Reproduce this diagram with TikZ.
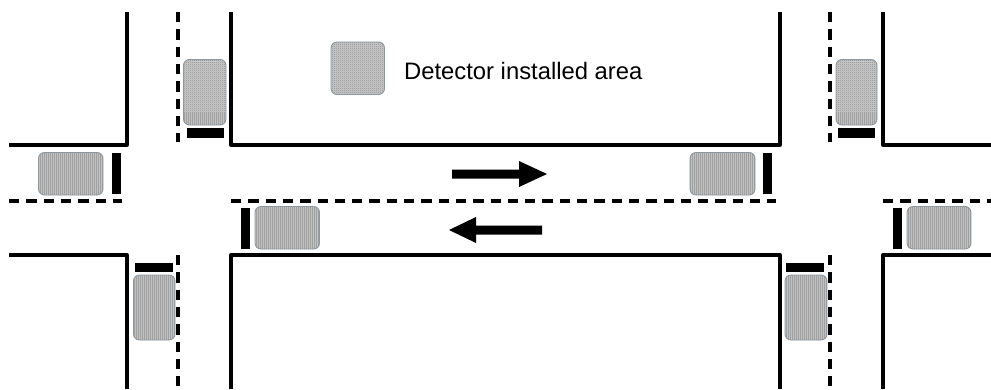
\documentclass[tikz,border=0pt]{standalone}
\usepackage{fontspec}
\setmainfont{Liberation Sans}
\usetikzlibrary{patterns}
\definecolor{detfill}{HTML}{C2C2C2}
\definecolor{detdot}{HTML}{A0A0A0}
\definecolor{detedge}{HTML}{8E979F}
\pgfdeclarepatternformonly{detdots}{\pgfqpoint{-0.5pt}{-0.5pt}}{\pgfqpoint{1.5pt}{1.5pt}}{\pgfqpoint{2pt}{2pt}}{%
  \pgfpathrectangle{\pgfqpoint{-0.5pt}{-0.5pt}}{\pgfqpoint{1.1pt}{1.1pt}}\pgfusepath{fill}}
\tikzset{
  road/.style={draw=black,line width=3.3pt,line join=round},
  lane/.style={draw=black,dash pattern=on 10.3pt off 7pt,line width=3.1pt},
  detector/.style={rounded corners=6pt,fill=detfill,postaction={pattern=detdots,pattern color=detdot},postaction={draw=detedge,line width=0.9pt}},
  stopbar/.style={fill=black},
  flow/.style={fill=black}
}
\newcommand{\detbox}[4]{\path[detector] (#1,#2) rectangle (#3,#4);}
\newcommand{\barbox}[4]{\path[stopbar] (#1,#2) rectangle (#3,#4);}
\begin{document}
\begin{tikzpicture}[x=1pt,y=-1pt]
\useasboundingbox[fill=white] (0,0) rectangle (991,389);
% kerbs
\draw[road] (9,145) -- (127,145) -- (127,12);
\draw[road] (231,12) -- (231,145) -- (780,145) -- (780,12);
\draw[road] (883,12) -- (883,145) -- (991,145);
\draw[road] (9,255) -- (127,255) -- (127,389);
\draw[road] (231,389) -- (231,255) -- (780,255) -- (780,389);
\draw[road] (883,389) -- (883,255) -- (991,255);
% lane markings
\draw[lane] (178,12) -- (178,142);
\draw[lane] (178,255) -- (178,389);
\draw[lane] (830,12) -- (830,142);
\draw[lane] (830,255) -- (830,389);
\draw[lane] (9,201) -- (122,201);
\draw[lane] (231,201) -- (776,201);
\draw[lane] (883,201) -- (991,201);
% detector areas
\detbox{183.5}{59.5}{226}{125}
\detbox{38.5}{152.5}{103}{195}
\detbox{255}{206.5}{319.5}{249}
\detbox{133.5}{275}{175}{340}
\detbox{331}{42}{384.5}{94.5}
\detbox{836}{59.5}{877}{125}
\detbox{690}{152.5}{755}{195}
\detbox{907}{206.5}{971}{249}
\detbox{785}{275}{827}{340}
% stop bars
\barbox{186.5}{128}{224}{137.5}
\barbox{111.5}{152.5}{120.5}{194}
\barbox{241}{207.5}{250}{249}
\barbox{135}{263}{172.5}{272}
\barbox{838}{128}{875}{137.5}
\barbox{763}{152.5}{772}{194}
\barbox{892.5}{207.5}{901.5}{249}
\barbox{786}{263}{824}{272}
% direction arrows
\path[flow] (452,169.5) -- (519,169.5) -- (519,161) -- (547,174) -- (519,187) -- (519,178.5) -- (452,178.5) -- cycle;
\path[flow] (542,225.5) -- (476,225.5) -- (476,217) -- (449,230) -- (476,243) -- (476,234.5) -- (542,234.5) -- cycle;
% legend text
\node[anchor=base west,inner sep=0pt,font=\fontsize{23.8}{26}\selectfont] (legend) at (404,79) {Detector installed area};
\end{tikzpicture}
\end{document}
